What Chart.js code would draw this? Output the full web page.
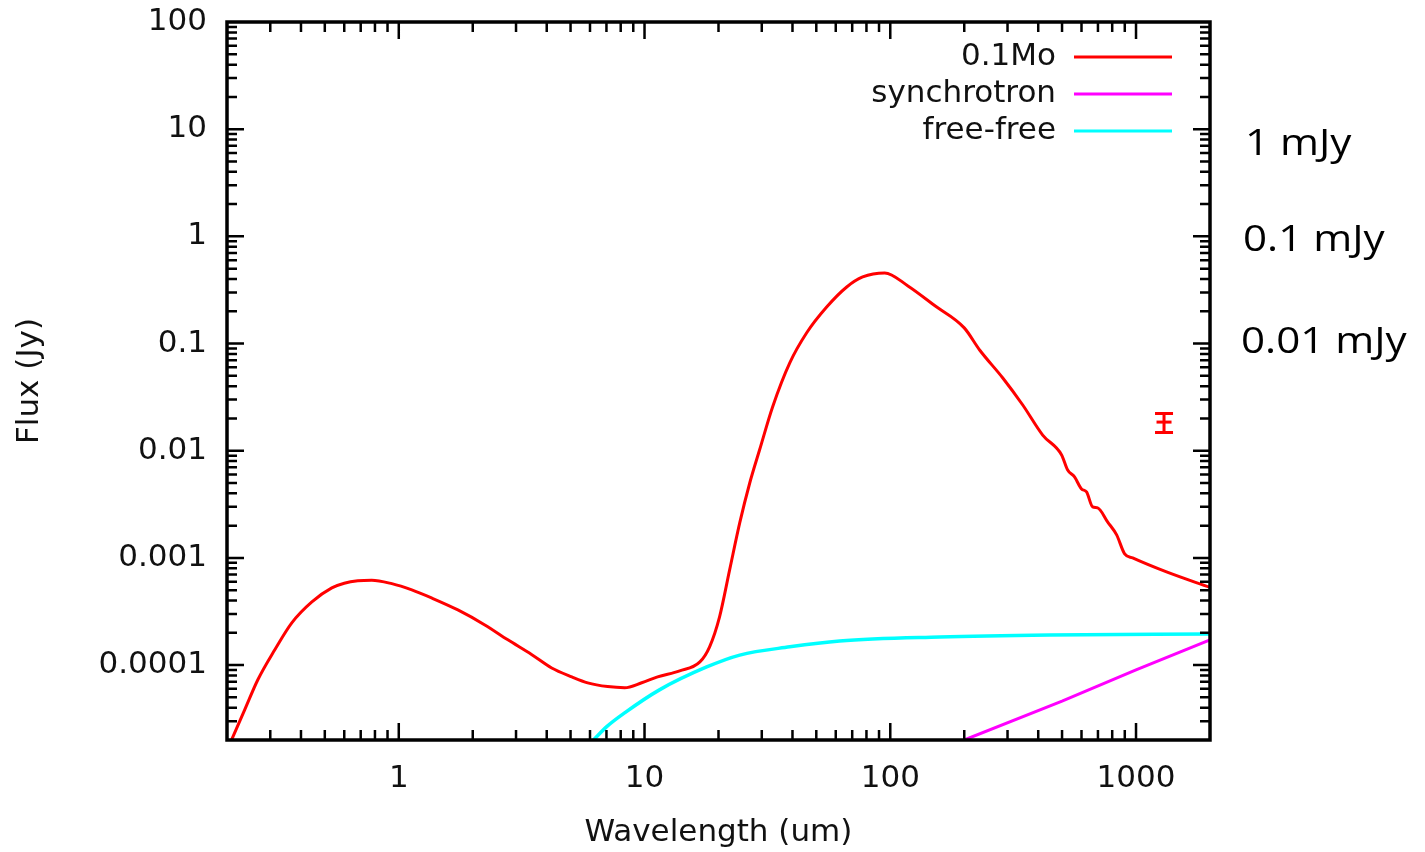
<!DOCTYPE html>
<html lang="en">
<head>
  <meta charset="UTF-8" />
  <title>SED model</title>
  <script src="https://cdn.jsdelivr.net/npm/chart.js@4.4.0/dist/chart.umd.min.js"></script>
  <style>
    body {
      margin: 0;
      background: #fff;
    }
    canvas {
      display: block;
    }
  </style>
</head>
<body>
  <canvas id="sed" width="1425" height="852"></canvas>

  <script>
    // model SED (0.1 Msun), wavelength in um, flux in Jy
    const sedWave = [0.2, 0.236, 0.267, 0.313, 0.367, 0.443, 0.534, 0.6, 0.681, 0.776, 0.937,
      1.13, 1.36, 1.74, 2.24, 2.78, 3.48, 4.19, 5.06, 5.87, 7.08, 8.3, 9.74,
      11.3, 13.9, 16.8, 18.4, 20.2, 22.2, 24.4, 26.8, 29.4, 33.2, 39.0, 45.7,
      55.1, 66.5, 77.2, 94.9, 118, 152, 200, 231, 287, 346, 417, 498, 527,
      562, 600, 629, 666, 698, 766, 834, 899, 969, 1331, 2000];
    const sedFlux = [1.6e-5, 3.82e-5, 7.3e-5, 1.39e-4, 2.48e-4, 3.89e-4, 5.25e-4, 5.8e-4, 6.12e-4, 6.2e-4, 5.75e-4,
      5.03e-4, 4.23e-4, 3.27e-4, 2.37e-4, 1.72e-4, 1.25e-4, 9.4e-5, 7.76e-5, 6.83e-5, 6.3e-5, 6.15e-5, 6.84e-5,
      7.76e-5, 8.83e-5, 1.07e-4, 1.48e-4, 2.82e-4, 7.73e-4, 2.12e-3, 5.0e-3, 1.02e-2, 2.56e-2, 6.6e-2, 0.126,
      0.219, 0.337, 0.418, 0.456, 0.345, 0.225, 0.140, 0.0871, 0.0477, 0.0267, 0.0140, 9.14e-3, 6.62e-3,
      5.70e-3, 4.40e-3, 4.13e-3, 2.99e-3, 2.93e-3, 2.17e-3, 1.64e-3, 1.09e-3, 1.0e-3, 7.4e-4, 5.3e-4];

    const syncWave = [200, 500, 1000, 2000];
    const syncFlux = [2.0e-5, 4.6e-5, 9.0e-5, 1.72e-4];

    const ffWave = [6.2, 7.0, 8.3, 11.5, 17.9, 24.4, 39.0, 62.2, 159, 445, 2000];
    const ffFlux = [2.0e-5, 2.65e-5, 3.58e-5, 5.87e-5, 9.6e-5, 1.24e-4, 1.48e-4, 1.68e-4, 1.83e-4, 1.91e-4, 1.95e-4];

    // measured point with error bar
    const obsWave = [1300];
    const obsFlux = [0.0185];
    const obsErr = [0.0037];

    const seriesNames = ['0.1Mo', 'synchrotron', 'free-free'];
    const xTickValues = [1, 10, 100, 1000];
    const xTickLabels = ['1', '10', '100', '1000'];
    const yTickValues = [0.0001, 0.001, 0.01, 0.1, 1, 10, 100];
    const yTickLabels = ['0.0001', '0.001', '0.01', '0.1', '1', '10', '100'];
    const sideNotes = ['1 mJy', '0.1 mJy', '0.01 mJy'];

    const pts = (xs, ys) => xs.map((v, i) => ({ x: v, y: ys[i] }));
    const labelFont = { family: 'DejaVu Sans', size: 31 };

    // scale boxes get fixed sizes so the plot frame lands where it should
    const fixBox = (s, w, h) => {
      if (w !== null) s.width = w;
      if (h !== null) s.height = h;
      s.paddingTop = s.paddingBottom = s.paddingLeft = s.paddingRight = 0;
    };

    // gnuplot-like frame: border plus inward major/minor ticks on all four sides
    const frameTicks = {
      id: 'frameTicks',
      afterDatasetsDraw(chart) {
        const { ctx, chartArea: a, scales: { x, y } } = chart;
        ctx.save();
        ctx.strokeStyle = '#000';
        ctx.lineWidth = 2.5;
        ctx.beginPath();
        for (let d = -1; d <= 3; d++) {
          for (let m = 1; m <= 9; m++) {
            const v = m * Math.pow(10, d);
            const p = x.getPixelForValue(v);
            if (p < a.left + 2 || p > a.right - 2) continue;
            const len = m === 1 ? 17 : 10;
            ctx.moveTo(p, a.bottom); ctx.lineTo(p, a.bottom - len);
            ctx.moveTo(p, a.top); ctx.lineTo(p, a.top + len);
          }
        }
        for (let d = -5; d <= 2; d++) {
          for (let m = 1; m <= 9; m++) {
            const v = m * Math.pow(10, d);
            const p = y.getPixelForValue(v);
            if (p < a.top + 2 || p > a.bottom - 2) continue;
            const len = m === 1 ? 17 : 10;
            ctx.moveTo(a.left, p); ctx.lineTo(a.left + len, p);
            ctx.moveTo(a.right, p); ctx.lineTo(a.right - len, p);
          }
        }
        ctx.stroke();
        ctx.lineWidth = 3.5;
        ctx.strokeRect(a.left, a.top, a.right - a.left, a.bottom - a.top);
        ctx.restore();
      }
    };

    // vertical error bars with caps for the measured points
    const errorBars = {
      id: 'errorBars',
      afterDatasetsDraw(chart) {
        const { ctx, scales: { x, y } } = chart;
        ctx.save();
        ctx.strokeStyle = '#ff0000';
        ctx.lineWidth = 3;
        obsWave.forEach((w, i) => {
          const px = x.getPixelForValue(w);
          const top = y.getPixelForValue(obsFlux[i] + obsErr[i]);
          const bot = y.getPixelForValue(obsFlux[i] - obsErr[i]);
          ctx.beginPath();
          ctx.moveTo(px, top); ctx.lineTo(px, bot);
          ctx.moveTo(px - 9, top); ctx.lineTo(px + 9, top);
          ctx.moveTo(px - 9, bot); ctx.lineTo(px + 9, bot);
          ctx.stroke();
        });
        ctx.restore();
      }
    };

    // key in the top right corner: right-aligned text followed by a line sample
    const keyBox = {
      id: 'keyBox',
      afterDraw(chart) {
        const { ctx } = chart;
        ctx.save();
        ctx.font = `${labelFont.size}px ${labelFont.family}`;
        ctx.textAlign = 'right';
        ctx.textBaseline = 'middle';
        chart.data.datasets.slice(0, 3).forEach((ds, i) => {
          const yy = 57 + i * 37;
          ctx.fillStyle = '#111';
          ctx.fillText(ds.label, 1056, yy);
          ctx.strokeStyle = ds.borderColor;
          ctx.lineWidth = 3;
          ctx.beginPath();
          ctx.moveTo(1074, yy);
          ctx.lineTo(1172, yy);
          ctx.stroke();
        });
        ctx.restore();
      }
    };

    // flux-level notes to the right of the frame
    const sideText = {
      id: 'sideText',
      afterDraw(chart) {
        const { ctx } = chart;
        const rows = [[1245, 155], [1243, 251], [1241, 353]];
        ctx.save();
        ctx.font = '36px "Open Sans"';
        ctx.fillStyle = '#000';
        ctx.textBaseline = 'alphabetic';
        sideNotes.forEach((t, i) => {
          ctx.save();
          ctx.translate(rows[i][0], rows[i][1]);
          ctx.scale(1.17, 1);
          ctx.fillText(t, 0, 0);
          ctx.restore();
        });
        ctx.restore();
      }
    };

    new Chart(document.getElementById('sed'), {
      type: 'scatter',
      data: {
        datasets: [
          {
            label: seriesNames[0],
            data: pts(sedWave, sedFlux),
            showLine: true,
            borderColor: '#ff0000',
            borderWidth: 3,
            pointRadius: 0,
            cubicInterpolationMode: 'monotone'
          },
          {
            label: seriesNames[1],
            data: pts(syncWave, syncFlux),
            showLine: true,
            borderColor: '#ff00ff',
            borderWidth: 3,
            pointRadius: 0
          },
          {
            label: seriesNames[2],
            data: pts(ffWave, ffFlux),
            showLine: true,
            borderColor: '#00ffff',
            borderWidth: 3.5,
            pointRadius: 0,
            cubicInterpolationMode: 'monotone'
          },
          {
            label: 'data',
            data: pts(obsWave, obsFlux),
            showLine: false,
            pointStyle: 'line',
            pointRadius: 7.5,
            borderColor: '#ff0000',
            borderWidth: 3
          }
        ]
      },
      options: {
        responsive: false,
        animation: false,
        devicePixelRatio: 1,
        layout: { padding: { top: 22, right: 215, left: 0, bottom: 0 } },
        plugins: {
          legend: { display: false },
          tooltip: { enabled: false }
        },
        scales: {
          x: {
            type: 'logarithmic',
            min: 0.2,
            max: 2000,
            grid: { display: false, drawTicks: false },
            border: { display: false },
            afterBuildTicks: (s) => { s.ticks = xTickValues.map(v => ({ value: v })); },
            afterFit: (s) => fixBox(s, null, 112),
            ticks: {
              autoSkip: false,
              maxRotation: 0,
              padding: 20,
              color: '#111',
              font: labelFont,
              callback: (v) => xTickLabels[xTickValues.indexOf(v)]
            },
            title: {
              display: true,
              text: 'Wavelength (um)',
              color: '#111',
              font: labelFont,
              padding: { top: 0, bottom: 0 }
            }
          },
          y: {
            type: 'logarithmic',
            min: 2e-5,
            max: 100,
            grid: { display: false, drawTicks: false },
            border: { display: false },
            afterBuildTicks: (s) => { s.ticks = yTickValues.map(v => ({ value: v })); },
            afterFit: (s) => fixBox(s, 227, null),
            ticks: {
              autoSkip: false,
              padding: 20,
              color: '#111',
              font: labelFont,
              callback: (v) => yTickLabels[yTickValues.indexOf(v)]
            },
            title: {
              display: true,
              text: 'Flux (Jy)',
              color: '#111',
              font: labelFont,
              padding: { top: 11, bottom: 11 }
            }
          }
        }
      },
      plugins: [frameTicks, errorBars, keyBox, sideText]
    });
  </script>
</body>
</html>
